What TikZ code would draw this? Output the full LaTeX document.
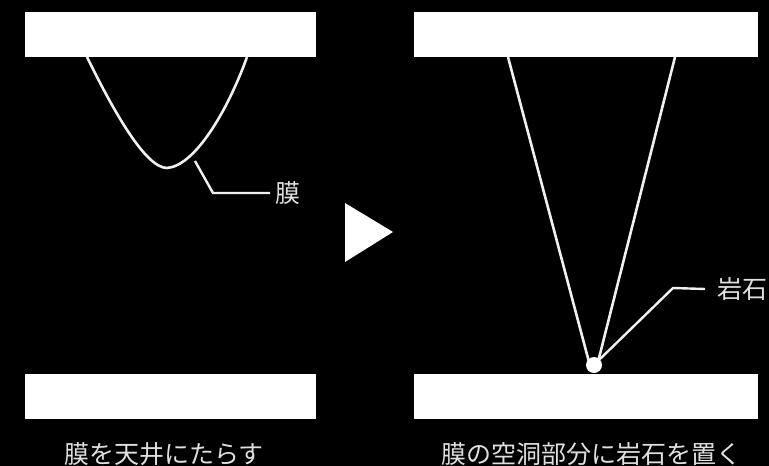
\documentclass[tikz,border=0pt]{standalone}
\usepackage{fontspec}
\setmainfont{Noto Sans CJK JP}
\usetikzlibrary{positioning}

\begin{document}
\begin{tikzpicture}[
    x=1pt, y=-1pt,
    every node/.style = {font=\fontsize{25}{30}\selectfont, text=white!88!black},
    plate/.style  = {rectangle, fill=white, inner sep=0pt,
                     minimum height=45pt},
    film/.style   = {draw=white!94!black, line width=2.6pt},
    leader/.style = {draw=white!94!black, line width=2.4pt},
    rock/.style   = {circle, fill=white, inner sep=0pt, minimum size=16pt},
    tag/.style    = {inner sep=0pt, anchor=west}
]
% black backdrop, fixes the page size
\fill[black] (0,0) rectangle (769,466);
\useasboundingbox (0,0) rectangle (769,466);

% left: film hanging from the ceiling
\node[plate, minimum width=291pt] (ceilL)  at (170.5,34.5)  {};
\node[plate, minimum width=291pt] (floorL) at (170.5,396.5) {};
\coordinate (hangLa) at (87,57);
\coordinate (hangLb) at (247,57);
\coordinate (dip)    at (167,168);
\draw[film] (hangLa) .. controls (112,108) and (145,168) .. (dip)
                     .. controls (195,166) and (228,110) .. (hangLb);
\coordinate (mkL)  at (195,161);
\coordinate (bndL) at (213,193);
\node[tag] (maku) at (275,193) {膜};
\draw[leader] (mkL) -- (bndL) -- ([xshift=-5pt]maku.west);
\node (capL) at (164,454) {膜を天井にたらす};

% arrow between the two steps
\fill[white] (345,203) -- (345,262) -- (393,232) -- cycle;

% right: rock placed in the hollow of the film
\node[plate, minimum width=344pt] (ceilR)  at (586,34.5)  {};
\node[plate, minimum width=344pt] (floorR) at (586,396.5) {};
\coordinate (hangRa) at (508,57);
\coordinate (hangRb) at (675,57);
\coordinate (tipRa)  at (589,362);
\coordinate (tipRb)  at (598,362);
\draw[film] (hangRa) -- (tipRa);
\draw[film] (hangRb) -- (tipRb);
\node[rock] (rock) at (594,365) {};
\coordinate (bndR) at (673,288);
\node[tag] (ganseki) at (717,289) {岩石};
\draw[leader] (rock.north east) -- (bndR) -- ([xshift=-12pt]ganseki.west);
\node (capR) at (591,454) {膜の空洞部分に岩石を置く};
\end{tikzpicture}
\end{document}
